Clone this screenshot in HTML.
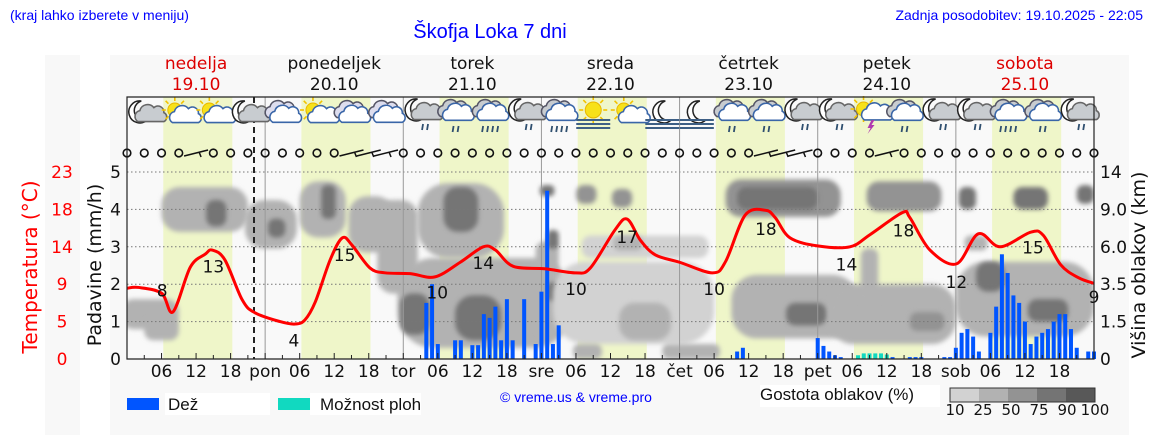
<!DOCTYPE html>
<html><head><meta charset="utf-8">
<style>
html,body{margin:0;padding:0;background:#fff;}
svg{display:block;font-family:"Liberation Sans","DejaVu Sans",sans-serif;}
.t{font-family:"DejaVu Sans","Liberation Sans",sans-serif;}
</style></head>
<body>
<svg id="chart" width="1152" height="443" viewBox="0 0 1152 443" xmlns="http://www.w3.org/2000/svg">
<defs>
<filter id="blur" x="-30%" y="-30%" width="160%" height="160%"><feGaussianBlur stdDeviation="2.5"/></filter>
<clipPath id="plotclip"><rect x="127" y="160" width="967" height="199"/></clipPath>
</defs>
<rect x="45" y="55" width="35" height="380" fill="#f8f8f8"/>
<rect x="110" y="55" width="1019" height="380" fill="#f8f8f8"/>
<text x="10" y="20" font-size="14" fill="#0000ff">(kraj lahko izberete v meniju)</text>
<text x="490" y="38" font-size="20" fill="#0000ff" text-anchor="middle">Škofja Loka 7 dni</text>
<text x="1143" y="20" font-size="14" fill="#0000ff" text-anchor="end">Zadnja posodobitev: 19.10.2025 - 22:05</text>
<g id="bg"></g>
<g id="clouds" clip-path="url(#plotclip)"></g>
<g id="grid"></g>
<g id="icons"></g>
<g id="wind"></g>
<g id="bars"></g>
<g id="temp"></g>
<g id="axes"></g>
<g id="legend"></g>
</svg>
<script>
const dayNames=["nedelja","ponedeljek","torek","sreda","četrtek","petek","sobota"];
const dayDates=["19.10","20.10","21.10","22.10","23.10","24.10","25.10"];
const dayAbbr=["","pon","tor","sre","čet","pet","sob"];
const rainTicks=[0,1,2,3,4,5];
const tempTicks=["0","5","9","14","18","23"];
const cloudTicks=["0","1.5","3.5","6.0","9.0","14"];
const tempHours=[0,2,6,8,11,13.6,14.8,17,20,22.2,26.6,29.2,30.9,32.7,35.3,37.4,39.1,42.2,44.8,49.2,53.5,57.9,61.9,64,67.1,72.6,77.9,80.5,84.8,86.9,89.2,91.8,96,101.7,104,107.4,110.9,112.6,115.2,120.1,125.6,129.1,134.7,136,139.5,144.1,147.9,151.7,157,159.2,162.2,165.3,168];
const tempValues=[8.7,8.8,8.1,5.8,11.3,12.9,13.4,12.2,7.3,5.7,4.6,4.3,4.8,7,12.2,14.9,14,11.2,10.6,10.5,10.1,11.9,13.8,13.4,11.4,11.1,10.6,11.2,15.9,17.2,14.6,12.8,11.9,10.6,12,17.7,18.3,17.4,14.9,13.9,13.8,15.3,18,17.4,13.4,11.7,15.4,13.8,15.6,15.2,11.6,10,9.3];
const tempLabelHours=[6.1,15,29,37.8,53.9,61.9,78,86.9,102,111,125,134.9,144.1,157.4,168];
const tempLabelValues=[8,13,4,15,10,14,10,17,10,18,14,18,12,15,9];
const tempLabelY=[8.4,11.4,2.3,12.8,8.2,11.8,8.6,15.0,8.6,16.0,11.6,15.8,9.5,13.7,7.6];
const rainHours=[52,53,54,57,58,60,61,62,63,64,65,66,67,69,71,72,73,74,75,106,107,120,121,122,123,124,133,136,137,138,142,143,144,145,146,147,148,150,151,152,153,154,155,156,157,158,159,160,161,162,163,164,165,167,168];
const rainValues=[1.5,2.0,0.4,0.5,0.5,0.37,0.37,1.2,1.1,1.4,0.5,1.6,0.5,1.6,0.4,1.8,4.5,0.4,0.9,0.2,0.3,0.56,0.35,0.2,0.1,0.05,0.05,0.05,0.05,0.05,0.05,0.05,0.3,0.7,0.8,0.6,0.2,0.7,1.4,2.8,2.3,1.7,1.5,1.0,0.4,0.6,0.7,0.8,1.0,1.2,1.2,0.8,0.3,0.2,0.2];
const showerHours=[127,128,129,130,131,132];
const showerValues=[0.1,0.15,0.15,0.15,0.15,0.12];
// cloud blobs: centre hour, centre height (axis units), width hours, height units, density level
const cloudHour=[13.5,15.5,25,26,34,35,42.5,47,58,58,62,61,50,73,74,74,73,79.8,86,90,88,87,90,114,113,116,118,80,98,133,129,139,135,146,157,166.5,147.5,156,150,160,4,6];
const cloudMM=[4.0,3.9,3.6,3.5,4.0,4.2,3.6,3.0,3.7,4.0,1.5,1.1,1.2,1.9,3.2,1.8,4.5,4.4,4.3,3.0,1.5,3.1,1.0,4.3,4.3,1.4,1.2,0.2,0.2,1.2,2.2,1.0,4.35,4.3,4.3,4.4,3.1,1.6,2.2,1.3,1.2,0.8];
const cloudW=[15,3.5,9,3,8,2.5,8,7,15,6,30,8,5,4,2,2,2.5,3.5,3.5,22,28,5,9,20,14,22,7,5,10,22,3,6,13,3,6,3,4,24,5,7,10,6];
const cloudH=[1.2,0.7,1.3,0.5,1.5,0.9,1.5,2.5,2,1.2,2.4,1.2,1.1,2.5,0.5,0.5,0.3,0.5,0.5,0.6,2.2,0.4,1,1.0,0.6,1.7,0.6,0.4,0.4,1.6,1.5,0.5,0.8,0.6,0.6,0.5,0.4,2.0,0.8,0.6,0.8,0.6];
const cloudLvl=[1,3,1,3,1,3,1,1,1,3,1,3,3,1,3,3,3,2,2,0,0,1,1,2,3,1,3,1,1,1,1,2,2,3,3,3,1,1,3,3,1,1];
const iconTypes=["mc","sc","sc","mc","c","sc","c","c","mcr","cr","cr4","mcr","cr4","fogsun","sc","moonfog","moonfog","cr","cr","mcr","mcr","storm","cr","mcr","mcr","cr4","cr","mcr"];
const windBarbSlots=[4,13,14,15,37,38,39,44];

const X0=127,X1=1094,Y0=359,MM=37.4,DAY=(X1-X0)/7;
const xs=h=>X0+h*DAY/24;
const ys=v=>Y0-v*MM;
const yt=t=>Y0-t/4.6*MM;
const NS="http://www.w3.org/2000/svg";
function mk(tag,attrs,parent,text){const e=document.createElementNS(NS,tag);for(const k in attrs)e.setAttribute(k,attrs[k]);if(text!==undefined)e.textContent=text;parent.appendChild(e);return e;}
const G=id=>document.getElementById(id);
const bg=G('bg'),grid=G('grid'),clouds=G('clouds'),icons=G('icons'),wind=G('wind'),bars=G('bars'),temp=G('temp'),axes=G('axes'),legend=G('legend');

let e=mk('rect',{x:X0,y:97,width:X1-X0,height:Y0-97,fill:'#f9f9f9'},bg);


for(let d=0;d<7;d++){
  e=mk('rect',{x:xs(d*24+6.3),y:97,width:xs(18.3)-xs(6.3),height:Y0-97,fill:'#eff6c9'},bg);
  
  
  const cx=xs(d*24+12),red=(d===0||d===6);
  e=mk('text',{x:cx,y:69,'font-size':17,'text-anchor':'middle',fill:red?'#dd0000':'#111',class:'t'},bg,dayNames[d]);
  
  
  e=mk('text',{x:cx,y:90,'font-size':17,'text-anchor':'middle',fill:red?'#dd0000':'#111',class:'t'},bg,dayDates[d]);
  
  
}
const cols=['#d2d2d2','#b2b2b2','#939393','#747474','#585858'];
for(let i=0;i<cloudHour.length;i++){
  const w=xs(cloudW[i])-xs(0),hh=cloudH[i]*MM;
  e=mk('rect',{x:xs(cloudHour[i])-w/2,y:ys(cloudMM[i])-hh/2,width:w,height:hh,rx:Math.min(w,hh)/2.5,fill:cols[cloudLvl[i]],filter:'url(#blur)'},clouds);
  
  
}
for(const v of rainTicks.slice(1)){
  e=mk('line',{x1:X0,x2:X1,y1:ys(v),y2:ys(v),stroke:'#777','stroke-width':1,'stroke-dasharray':'1.5,2.5'},grid);
  
  
}
for(let d=1;d<7;d++){
  e=mk('line',{x1:xs(d*24),x2:xs(d*24),y1:97,y2:Y0,stroke:'#999','stroke-width':1},grid);
  
  
}
e=mk('line',{x1:254,x2:254,y1:97,y2:Y0,stroke:'#222','stroke-width':2,'stroke-dasharray':'6,4'},grid);



function cloud(g,cx,cy,fill,stroke,s){
  mk('path',{d:`M${cx-13*s},${cy+7*s} a6,6 0 0 1 2,-11 a8,8 0 0 1 14,-3 a6,6 0 0 1 10,5 a5,5 0 0 1 0,9 z`,fill:fill,stroke:stroke,'stroke-width':1.6},g);
}
function sun(g,cx,cy,r){
  for(let a=0;a<8;a++){const an=a*Math.PI/4;mk('line',{x1:cx+Math.cos(an)*(r+2),y1:cy+Math.sin(an)*(r+2),x2:cx+Math.cos(an)*(r+6),y2:cy+Math.sin(an)*(r+6),stroke:'#f2c200','stroke-width':1.6},g);}
  mk('circle',{cx:cx,cy:cy,r:r,fill:'#f7e11a',stroke:'#e8b800','stroke-width':1},g);
}
function moon(g,cx,cy){mk('path',{d:`M${cx+3},${cy-11} a11,11 0 1 0 6,19 a9,9 0 1 1 -6,-19 z`,fill:'#fff',stroke:'#222','stroke-width':1.5},g);}
function drops(g,cx,cy,n){for(let i=0;i<n;i++)mk('line',{x1:cx-(n-1)*2.5+i*5+1,y1:cy,x2:cx-(n-1)*2.5+i*5,y2:cy+6,stroke:'#2f4f6f','stroke-width':1.8},g);}
function fog(g,cx,cy){for(let i=0;i<3;i++)mk('line',{x1:cx-17,x2:cx+17,y1:cy+i*4,y2:cy+i*4,stroke:'#3d5f85','stroke-width':2},g);}
iconTypes.forEach((t,i)=>{
  const cx=X0+(i+0.5)*DAY/4,cy=114;
  const g=mk('g',{},icons);
  
  
  if(t==='mc'){moon(g,cx-6,cy-2);cloud(g,cx+4,cy+2,'#c8ccd0','#666',0.8);}
  else if(t==='mcr'){moon(g,cx-6,cy-4);cloud(g,cx+4,cy,'#c8ccd0','#666',0.8);drops(g,cx+4,cy+10,2);}
  else if(t==='sc'){sun(g,cx-4,cy-4,7);cloud(g,cx+4,cy+3,'#fff','#3a66a8',0.8);}
  else if(t==='c'){cloud(g,cx-4,cy-2,'#dde','#556',0.8);cloud(g,cx+2,cy+2,'#fff','#3a66a8',0.9);}
  else if(t==='cr'||t==='cr4'){cloud(g,cx-4,cy-3,'#c8ccd0','#556',0.8);cloud(g,cx+2,cy,'#fff','#3a66a8',0.9);drops(g,cx,cy+12,t==='cr4'?4:2);}
  else if(t==='fogsun'){sun(g,cx,cy-4,8);fog(g,cx,cy+6);}
  else if(t==='moonfog'){moon(g,cx,cy-2);fog(g,cx,cy+6);}
  else if(t==='storm'){sun(g,cx-6,cy-5,7);cloud(g,cx+4,cy+1,'#fff','#3a66a8',0.7);mk('path',{d:`M${cx+2},${cy+6} l-4,8 l3,0 l-3,6 l7,-9 l-3,0 l3,-5z`,fill:'#b03ab0'},g);}
});
for(let s=0;s<=56;s++){
  const cx=X0+s*DAY/8;
  if(windBarbSlots.includes(s)){
    e=mk('path',{d:`M${cx-12},${156} L${cx+12},${150} M${cx+3},${152} l2,5`,stroke:'#111','stroke-width':1.5,fill:'none'},wind);
    
    
  } else {
    e=mk('circle',{cx:cx,cy:153,r:3.8,fill:'none',stroke:'#111','stroke-width':1.6},wind);
    
    
  }
}
rainHours.forEach((h,i)=>{
  const v=rainValues[i];
  e=mk('rect',{x:xs(h)-2,y:ys(v),width:4,height:v*MM,fill:'#0055ff'},bars);
  
  
});
showerHours.forEach((h,i)=>{
  const v=showerValues[i];
  e=mk('rect',{x:xs(h)-2,y:ys(v),width:4,height:v*MM,fill:'#11d9c0'},bars);
  
  
});
const pts=tempHours.map((h,i)=>[xs(h),yt(tempValues[i])]);
let d=`M${pts[0][0]},${pts[0][1]}`;
for(let i=0;i<pts.length-1;i++){
  const p0=pts[Math.max(0,i-1)],p1=pts[i],p2=pts[i+1],p3=pts[Math.min(pts.length-1,i+2)];
  d+=` C${p1[0]+(p2[0]-p0[0])/6},${p1[1]+(p2[1]-p0[1])/6} ${p2[0]-(p3[0]-p1[0])/6},${p2[1]-(p3[1]-p1[1])/6} ${p2[0]},${p2[1]}`;
}
e=mk('path',{d:d,fill:'none',stroke:'#ff0000','stroke-width':3,'stroke-linejoin':'round'},temp);


tempLabelHours.forEach((h,i)=>{
  e=mk('text',{x:xs(h),y:yt(tempLabelY[i])+6,'font-size':17,'text-anchor':'middle',fill:'#111',class:'t'},temp,String(tempLabelValues[i]));
  
  
});
e=mk('path',{d:`M${X0},${Y0} L${X0},97 L${X1},97 L${X1},${Y0} Z`,fill:'none',stroke:'#222','stroke-width':1.2},axes);


for(let h=0;h<=168;h+=3){
  e=mk('line',{x1:xs(h),x2:xs(h),y1:Y0,y2:Y0-(h%6===0?6:4),stroke:'#222','stroke-width':1},axes);
  
  
  if(h<168&&h%6===0&&h%24!==0||h%24===0&&h>0&&h<168){
    const lab=h%24===0?dayAbbr[h/24]:String(h%24).padStart(2,'0');
    e=mk('text',{x:xs(h),y:377,'font-size':17,'text-anchor':'middle',fill:'#111',class:'t'},axes,lab);
    
    
  }
}
rainTicks.forEach((v,i)=>{
  e=mk('text',{x:121,y:ys(v)+6,'font-size':17,'text-anchor':'end',fill:'#111',class:'t'},axes,String(v));
  
  
  e=mk('text',{x:62,y:ys(v)+6,'font-size':17,'text-anchor':'middle',fill:'#ff0000',class:'t'},axes,tempTicks[i]);
  
  
  e=mk('text',{x:1100,y:ys(v)+6,'font-size':17,'text-anchor':'start',fill:'#111',class:'t'},axes,cloudTicks[i]);
  
  
});
e=mk('text',{x:0,y:0,'font-size':19,'text-anchor':'middle',fill:'#111',class:'t',transform:'translate(101,265) rotate(-90)'},axes,'Padavine (mm/h)');


e=mk('text',{x:0,y:0,'font-size':20,'text-anchor':'middle',fill:'#ff0000',class:'t',transform:'translate(37,267) rotate(-90)'},axes,'Temperatura (°C)');


e=mk('text',{x:0,y:0,'font-size':19,'text-anchor':'middle',fill:'#111',class:'t',transform:'translate(1145,265) rotate(-90)'},axes,'Višina oblakov (km)');


mk('rect',{x:165,y:393,width:105,height:22,fill:'#fff'},legend);
mk('rect',{x:310,y:393,width:111,height:22,fill:'#fff'},legend);
mk('rect',{x:760,y:385,width:180,height:22,fill:'#fff'},legend);
e=mk('rect',{x:127,y:398,width:32,height:12,fill:'#0055ff'},legend);


e=mk('text',{x:168,y:410,'font-size':17,fill:'#111'},legend,'Dež');


e=mk('rect',{x:278,y:398,width:32,height:12,fill:'#11d9c0'},legend);


e=mk('text',{x:320,y:410,'font-size':17,fill:'#111'},legend,'Možnost ploh');


e=mk('text',{x:500,y:402,'font-size':14,fill:'#0000ff'},legend,'© vreme.us & vreme.pro');


e=mk('text',{x:760,y:400,'font-size':17,fill:'#111'},legend,'Gostota oblakov (%)');


const cbLabels=["10","25","50","75","90","100"];
for(let i=0;i<5;i++){
  e=mk('rect',{x:950+i*29,y:388,width:29,height:14,fill:cols[i]},legend);
  
  
}
mk('rect',{x:950,y:388,width:145,height:14,fill:'none',stroke:'#333','stroke-width':1},legend);
cbLabels.forEach((l,i)=>{
  e=mk('text',{x:955+i*28,y:415,'font-size':15,'text-anchor':'middle',fill:'#111',class:'t'},legend,l);
  
  
});
</script>
</body></html>
